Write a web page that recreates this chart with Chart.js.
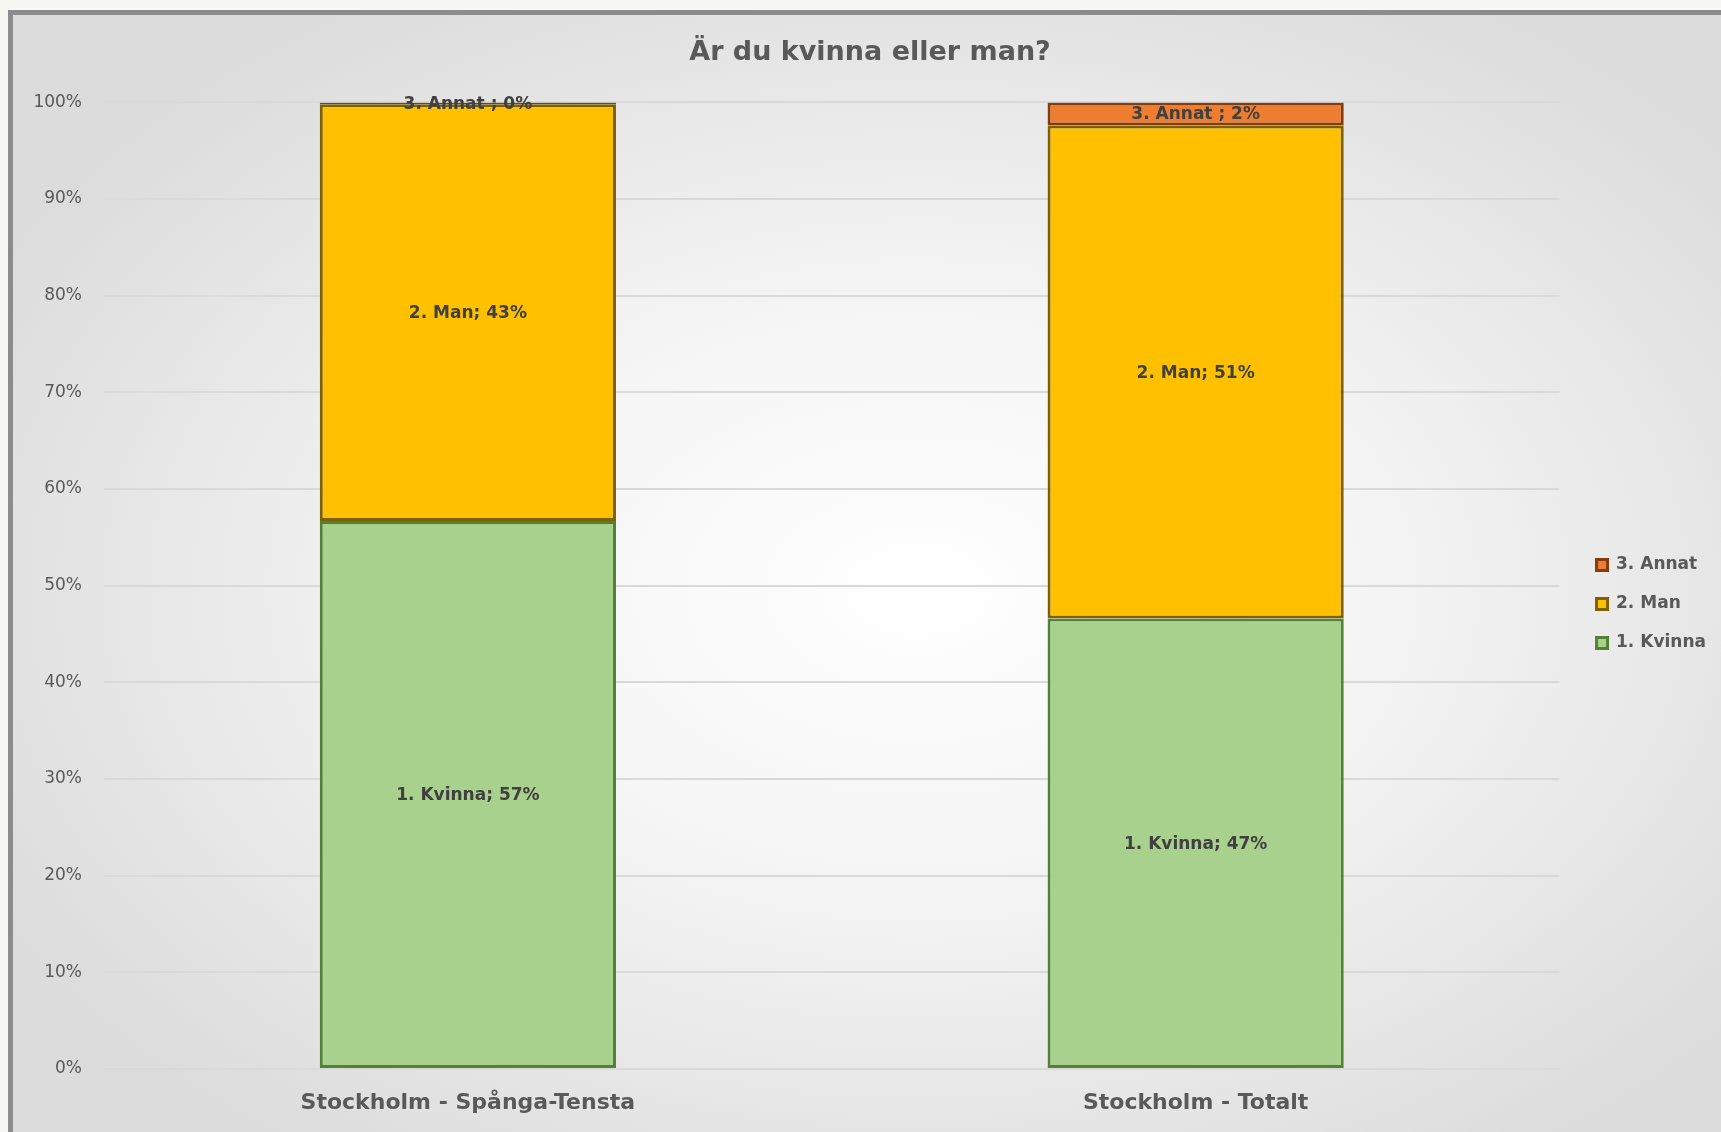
<!DOCTYPE html>
<html>
<head>
<meta charset="utf-8">
<script src="https://cdn.jsdelivr.net/npm/chart.js@4"></script>
<style>
  html, body { margin: 0; padding: 0; width: 1721px; height: 1132px; overflow: hidden; background: #f7f7f3; }
  #frame { position: absolute; left: 8px; top: 10px; width: 1740px; height: 1150px;
    border-left: 5px solid #8c8c8c; border-top: 5px solid #8c8c8c;
    background: radial-gradient(ellipse 60% 60% at 52% 50%, #ffffff 0%, #f4f4f4 45%, #dcdcdc 100%); }
  #wrap { position: absolute; left: 0; top: 0; width: 1721px; height: 1132px; }
</style>
</head>
<body>
<div id="frame"></div>
<div id="wrap"><canvas id="c" width="1721" height="1132"></canvas></div>
<script>
const categories = ["Stockholm - Spånga-Tensta", "Stockholm - Totalt"];
const seriesNames = ["1. Kvinna", "2. Man", "3. Annat"];
const kvinna = [56.7, 46.6];
const man = [43.1, 51.0];
const annat = [0.2, 2.4];
const yTicks = [0, 10, 20, 30, 40, 50, 60, 70, 80, 90, 100];

const labelPlugin = {
  id: 'barLabels',
  afterDatasetsDraw(chart) {
    const ctx = chart.ctx;
    ctx.save();
    ctx.font = 'bold 17px "DejaVu Sans"';
    ctx.fillStyle = '#404040';
    ctx.textAlign = 'center';
    ctx.textBaseline = 'middle';
    chart.data.datasets.forEach((ds, di) => {
      const meta = chart.getDatasetMeta(di);
      meta.data.forEach((el, i) => {
        const v = ds.data[i];
        const sep = di === 2 ? ' ; ' : '; ';
        const txt = ds.label + sep + Math.round(v) + '%';
        const p = el.getProps(['x', 'y', 'base'], true);
        ctx.fillText(txt, p.x, (p.y + p.base) / 2 + 1);
      });
    });
    ctx.restore();
  }
};

new Chart(document.getElementById('c'), {
  type: 'bar',
  data: {
    labels: categories,
    datasets: [
      { label: seriesNames[0], data: kvinna, backgroundColor: '#a9d18e', borderColor: '#538135', borderWidth: 3, borderSkipped: false },
      { label: seriesNames[1], data: man, backgroundColor: '#ffc000', borderColor: '#7f6000', borderWidth: 3, borderSkipped: false },
      { label: seriesNames[2], data: annat, backgroundColor: '#ed7d31', borderColor: '#843c0c', borderWidth: 3, borderSkipped: false }
    ]
  },
  options: {
    responsive: false,
    animation: false,
    devicePixelRatio: 1,
    categoryPercentage: 1.0,
    barPercentage: 0.407,
    layout: { padding: { left: 24, right: 5, top: 14, bottom: 0 } },
    plugins: {
      title: {
        display: true,
        text: 'Är du kvinna eller man?',
        color: '#595959',
        font: { family: '"DejaVu Sans"', size: 27, weight: 'bold' },
        padding: { top: 23, bottom: 33 }
      },
      legend: {
        position: 'right',
        reverse: true,
        title: { display: true, text: ' ', font: { size: 10 }, padding: { top: 50, bottom: 0 } },
        labels: {
          color: '#595959',
          font: { family: '"DejaVu Sans"', size: 17, weight: 'bold' },
          boxWidth: 11,
          boxHeight: 11,
          padding: 22
        }
      },
      tooltip: { enabled: false }
    },
    scales: {
      x: {
        stacked: true,
        grid: { display: false, drawTicks: false },
        border: { display: false },
        ticks: { color: '#595959', font: { family: '"DejaVu Sans"', size: 22, weight: 'bold' }, padding: 21 },
        afterFit(s) { s.height = 63; }
      },
      y: {
        stacked: true,
        min: 0, max: 100,
        afterBuildTicks(s) { s.ticks = yTicks.map(v => ({ value: v })); },
        grid: { color: '#d9d9d9', lineWidth: 2, drawTicks: false },
        border: { display: false },
        ticks: { color: '#595959', font: { family: '"DejaVu Sans"', size: 17 }, padding: 22, callback: v => v + '%' },
        afterFit(s) { s.width = 80; }
      },
      gap: {
        type: 'linear',
        position: 'right',
        display: true,
        grid: { display: false, drawTicks: false },
        border: { display: false },
        ticks: { display: false },
        afterFit(s) { s.width = 15; }
      }
    }
  },
  plugins: [labelPlugin]
});
</script>
</body>
</html>
